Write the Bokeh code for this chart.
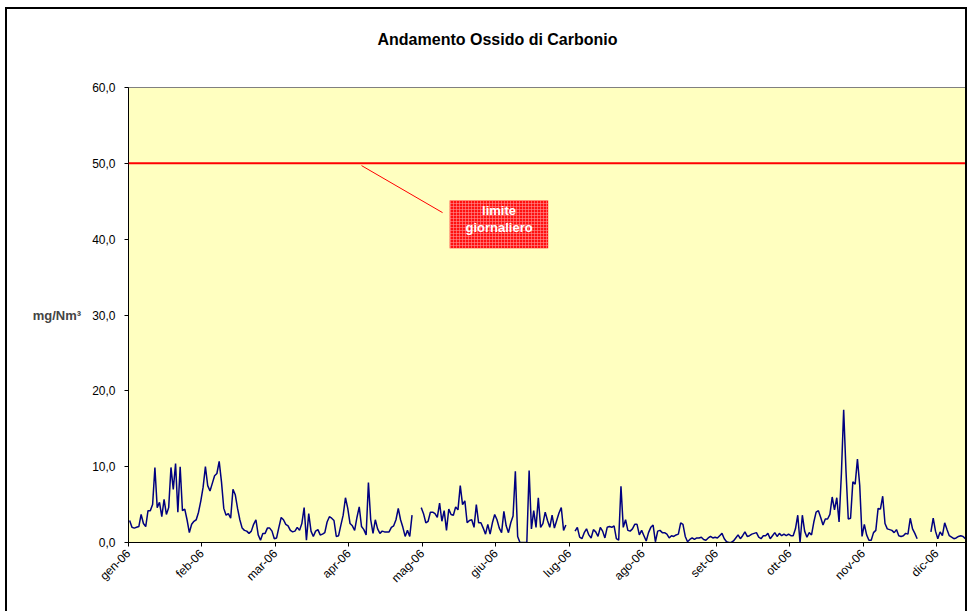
import math
import numpy as np
from bokeh.plotting import figure
from bokeh.models import Range1d, FixedTicker, Span, Label, Title
from bokeh.embed import file_html
from bokeh.resources import INLINE

title_text = "Andamento Ossido di Carbonio"
y_label = "mg/Nm³"
limit_value = 50.0
limit_text = ["limite", "giornaliero"]

month_labels = ["gen-06", "feb-06", "mar-06", "apr-06", "mag-06", "giu-06",
                "lug-06", "ago-06", "set-06", "ott-06", "nov-06", "dic-06"]
month_tick_days = [0, 32, 64, 96, 128, 160, 192, 224, 256, 288, 320, 352]
y_ticks = [0, 10, 20, 30, 40, 50, 60]
y_tick_labels = ["0,0", "10,0", "20,0", "30,0", "40,0", "50,0", "60,0"]

N = None
# daily CO values (mg/Nm3), days 0-72
co_part1 = [2.9, 2.0, 1.9, 2.0, 2.1, 3.7, 2.5, 2.1, 4.2, 4.2,
            5.0, 9.9, 4.6, 5.3, 3.4, 5.7, 3.7, 4.6, 9.9, 7.0,
            10.4, 4.0, 10.0, 4.2, 4.4, 3.0, 1.3, 2.4, 2.8, 3.0,
            4.0, 5.5, 7.3, 10.0, 7.5, 6.8, 7.8, 8.8, 9.1, 10.7,
            8.0, 4.5, 3.6, 3.8, 3.2, 7.0, 6.3, 4.5, 3.0, 1.9,
            1.6, 1.5, 1.2, 1.5, 2.4, 3.0, 1.0, 0.3, 1.2, 1.2,
            1.9, 1.9, 1.5, 0.5, 0.6, 2.0, 3.3, 3.0, 2.4, 2.2,
            1.6, 1.4, 1.5]
# days 73-145
co_part2 = [2.0, 1.6, 2.5, 4.6, 0.3, 3.8, 1.5, 0.8, 1.5, 1.7,
            1.0, 1.1, 1.3, 2.7, 3.4, 3.2, 2.9, 0.8, 0.9, 2.3,
            3.6, 5.9, 4.5, 2.5, 2.2, 1.6, 3.3, 4.7, 2.1, 1.7,
            1.0, 7.9, 3.0, 1.2, 3.0, 1.8, 1.2, 1.5, 1.4, 1.4,
            1.4, 2.0, 2.2, 3.0, 4.5, 3.0, 2.0, 0.8, 1.6, 0.8,
            3.6, N, N, N,
            4.6, 3.8, 2.6, 2.8, 4.0, 4.0, 3.8, 3.3, 5.2, 2.8,
            4.2, 1.6, 4.4, 3.7, 3.6, 4.7, 4.3, 7.5, 5.0]
# days 146-218
co_part3 = [5.5, 2.6, 2.9, 3.0, 2.0, 5.0, 2.6, 2.6, 1.9, 1.1,
            2.4, 1.1, 2.6, 3.7, 3.0, 1.9, 1.3, 4.1, 2.2, 1.3,
            2.6, 3.5, 9.4, 0.8, 0.0, 0.0, 0.0, 0.0, 9.5, 1.8,
            4.2, 2.0, 5.9, 2.0, 2.5, 4.0, 2.9, 2.0, 3.6, 1.9,
            2.9, 3.9, 4.6, 1.6, 2.3, N, N, N,
            1.5, 2.0, 0.7, 0.5, 1.3, 1.8, 1.0, 0.6, 1.7, 1.4,
            0.8, 2.0, 1.5, 0.6, 2.0, 2.1, 2.0, 2.2, 0.5, 0.3,
            7.4, 2.0, 3.0, 1.6, 1.5]
# days 219-291
co_part4 = [1.8, 2.4, 2.4, 1.0, 1.6, 0.9, 0.2, 1.3, 2.0, 2.3,
            0.1, 1.5, 1.6, 1.3, 1.3, 1.1, 0.6, 0.9, 0.8, 1.0,
            1.1, 2.6, 2.4, 0.8, 0.1, 0.4, 0.6, 0.4, 0.6, 0.6,
            0.7, 0.4, 0.3, 0.6, 0.8, 0.6, 0.7, 0.6, 0.9, 1.2,
            0.5, 0.1, 0.0, 0.0, 0.2, 0.6, 1.0, 0.5, 0.9, 1.4,
            0.8, 0.9, 1.1, 1.2, 1.3, 0.7, 0.5, 0.9, 0.9, 1.2,
            0.5, 0.9, 1.3, 0.8, 1.2, 0.9, 1.1, 0.9, 1.1, 0.9,
            0.9, 1.8, 3.6]
# days 292-364
co_part5 = [0.0,
            3.6, 1.5, 0.7, 1.3, 1.0, 2.7, 4.0, 4.2, 3.3, 2.3,
            3.1, 3.1, 3.7, 6.0, 4.3, 5.9, 2.7, 9.0, 17.5, 9.5,
            3.1, 3.2, 8.0, 7.7, 11.0, 7.5, 0.8, 2.4, 1.0, 0.3,
            0.3, 1.3, 1.6, 4.5, 4.4, 6.1, 2.5, 1.8, 1.7, 1.6,
            1.3, 1.7, 0.9, 0.8, 0.9, 1.2, 1.1, 3.2, 1.8, 1.2,
            0.5, N, N, N, N, N,
            1.4, 3.2, 1.5, 0.5, 1.4, 0.9, 2.6, 1.7, 0.9, 0.7,
            0.5, 0.6, 0.8, 0.9, 0.8, 0.5]

co = co_part1 + co_part2 + co_part3 + co_part4 + co_part5
n_days = len(co)
y_vals = np.array([np.nan if v is None else v for v in co], dtype=float)
x_vals = np.arange(n_days) + 0.5

FONT = "Liberation Sans"

p = figure(width=962, height=604, output_backend="svg", toolbar_location=None,
           x_range=Range1d(0, n_days), y_range=Range1d(0, 60),
           min_border_left=121, min_border_right=3, min_border_top=78,
           min_border_bottom=71)
p.styles = {"border-top": "2px solid black", "border-left": "2px solid black",
            "border-right": "2px solid black", "margin-left": "5px",
            "margin-top": "7px"}
p.background_fill_color = "#FFFFC0"
p.border_fill_color = "white"
p.outline_line_color = "#808080"
p.outline_line_width = 1
p.xgrid.visible = False
p.ygrid.visible = False

# spacer between frame and title (inner above panel)
p.add_layout(Title(text=" ", text_font=FONT, text_font_size="16px", standoff=16),
             "above")

# title (outermost above panel)
p.title.text = title_text
p.title.align = "left"
p.title.offset = 249
p.title.standoff = 10
p.title.text_font = FONT
p.title.text_font_size = "16px"
p.title.text_font_style = "bold"
p.title.text_color = "black"

# y axis
p.yaxis.ticker = FixedTicker(ticks=y_ticks)
p.yaxis.major_label_overrides = {t: l for t, l in zip(y_ticks, y_tick_labels)}
p.yaxis.axis_label = y_label
p.yaxis.axis_label_orientation = "horizontal"
p.yaxis.axis_label_text_font = FONT
p.yaxis.axis_label_text_font_size = "13px"
p.yaxis.axis_label_text_font_style = "bold"
p.yaxis.axis_label_standoff = 8
p.yaxis.major_label_text_font = FONT
p.yaxis.major_label_text_font_size = "12px"
p.yaxis.major_label_text_color = "black"
p.yaxis.major_label_standoff = 9
p.yaxis.major_tick_out = 4
p.yaxis.major_tick_in = 0
p.yaxis.minor_tick_out = 0
p.yaxis.minor_tick_in = 0
p.yaxis.axis_line_color = "black"
p.yaxis.major_tick_line_color = "black"

# x axis
p.xaxis.ticker = FixedTicker(ticks=month_tick_days)
p.xaxis.major_label_overrides = {t: l for t, l in zip(month_tick_days, month_labels)}
p.xaxis.major_label_orientation = math.pi / 4
p.xaxis.major_label_text_font = FONT
p.xaxis.major_label_text_font_size = "12px"
p.xaxis.major_label_text_color = "black"
p.xaxis.major_tick_out = 4
p.xaxis.major_tick_in = 0
p.xaxis.minor_tick_out = 0
p.xaxis.minor_tick_in = 0
p.xaxis.axis_line_color = "black"
p.xaxis.major_tick_line_color = "black"

# data line
p.line(x_vals, y_vals, line_color="#000080", line_width=1.5)

# limit line
p.add_layout(Span(location=limit_value, dimension="width", line_color="#FF0000",
                  line_width=2))

# annotation: leader line and box
p.line([101.5, 136.8], [49.7, 43.5], line_color="#FF0000", line_width=1)
p.quad(left=[139.9], right=[182.8], bottom=[38.8], top=[45.1],
       fill_color="#FF1010", line_color=None,
       hatch_pattern="+", hatch_color="#FF9090", hatch_scale=3, hatch_weight=0.6)
for txt, yy in zip(limit_text, [43.8, 41.5]):
    p.add_layout(Label(x=161.4, y=yy, text=txt, text_align="center",
                       text_baseline="middle", text_color="white",
                       text_font=FONT, text_font_size="13px", text_font_style="bold"))

open("out.html", "w").write(file_html(p, INLINE))
